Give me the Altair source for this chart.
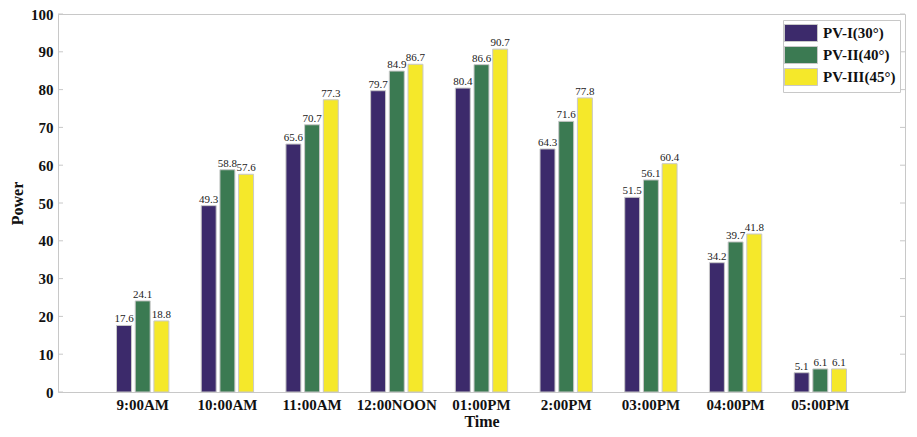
import altair as alt
import pandas as pd

times = ["9:00AM", "10:00AM", "11:00AM", "12:00NOON", "01:00PM", "2:00PM", "03:00PM", "04:00PM", "05:00PM"]
series = ["PV-I(30°)", "PV-II(40°)", "PV-III(45°)"]
pv1 = [17.6, 49.3, 65.6, 79.7, 80.4, 64.3, 51.5, 34.2, 5.1]
pv2 = [24.1, 58.8, 70.7, 84.9, 86.6, 71.6, 56.1, 39.7, 6.1]
pv3 = [18.8, 57.6, 77.3, 86.7, 90.7, 77.8, 60.4, 41.8, 6.1]
colors = ["#3c2a6b", "#3b7a52", "#f5e82a"]
y_ticks = [0, 10, 20, 30, 40, 50, 60, 70, 80, 90, 100]

rows = []
for s, vals in zip(series, [pv1, pv2, pv3]):
    for t, v in zip(times, vals):
        rows.append({"Time": t, "Series": s, "Power": v, "Label": f"{v:.1f}"})
df = pd.DataFrame(rows)
ticks_df = pd.DataFrame({"tick": y_ticks})

W, H = 847, 378
FONT = "Liberation Serif"

x_enc = alt.X("Time:N", sort=times,
              scale=alt.Scale(paddingInner=0.36, paddingOuter=0.68),
              axis=alt.Axis(title="Time", labelAngle=0, labelFont=FONT, labelFontWeight="bold",
                            labelFontSize=15, labelColor="#111", ticks=False, domain=False,
                            labelPadding=5, titleFont=FONT, titleFontSize=16,
                            titleFontWeight="bold", titleColor="#111", titlePadding=1))
xoff = alt.XOffset("Series:N", sort=series, scale=alt.Scale(paddingInner=0.2, paddingOuter=0.05))
y_enc = alt.Y("Power:Q", scale=alt.Scale(domain=[0, 100], nice=False),
              axis=alt.Axis(title="Power", values=y_ticks, grid=False, ticks=False,
                            domain=False, labelOverlap=False,
                            labelFont=FONT, labelFontWeight="bold", labelFontSize=15,
                            labelColor="#111", labelPadding=5, titleFont=FONT, titleFontSize=16,
                            titleFontWeight="bold", titleColor="#111", titlePadding=5))

bars = alt.Chart(df).mark_bar(stroke="#c8c8c8", strokeWidth=1).encode(
    x=x_enc, xOffset=xoff, y=y_enc,
    color=alt.Color("Series:N", sort=series, title=None,
                    scale=alt.Scale(domain=series, range=colors),
                    legend=alt.Legend(orient="none", legendX=725, legendY=6,
                                      symbolType="M-1.94,-1L1.94,-1L1.94,1L-1.94,1Z",
                                      symbolSize=289, symbolStrokeColor="#c8c8c8",
                                      symbolStrokeWidth=1, symbolOpacity=1, symbolOffset=5,
                                      labelFont=FONT, labelFontWeight="bold", labelFontSize=15,
                                      labelColor="#111", labelOffset=13, rowPadding=0,
                                      padding=4, strokeColor="#c8c8c8", fillColor="white",
                                      labelLimit=200)),
)

labels = alt.Chart(df).mark_text(font=FONT, fontSize=11, baseline="bottom", dy=-1, color="#222").encode(
    x=alt.X("Time:N", sort=times), xOffset=alt.XOffset("Series:N", sort=series),
    y=alt.Y("Power:Q"), text="Label:N",
)

left_ticks = alt.Chart(ticks_df).mark_rule(color="#c8c8c8").encode(
    y=alt.Y("tick:Q"), x=alt.value(0), x2=alt.value(5))
right_ticks = alt.Chart(ticks_df).mark_rule(color="#c8c8c8").encode(
    y=alt.Y("tick:Q"), x=alt.value(W - 5), x2=alt.value(W))

chart = alt.layer(bars, labels, left_ticks, right_ticks).properties(
    width=W, height=H,
    autosize=alt.AutoSizeParams(type="none"),
    padding={"left": 50, "top": 6, "right": 4, "bottom": 37},
).configure_view(stroke="#c8c8c8", strokeWidth=1).configure_axisY(
    labelOverlap=False, tickCount=11
)

chart.save("out.html", embed_options={"renderer": "svg", "actions": False})
